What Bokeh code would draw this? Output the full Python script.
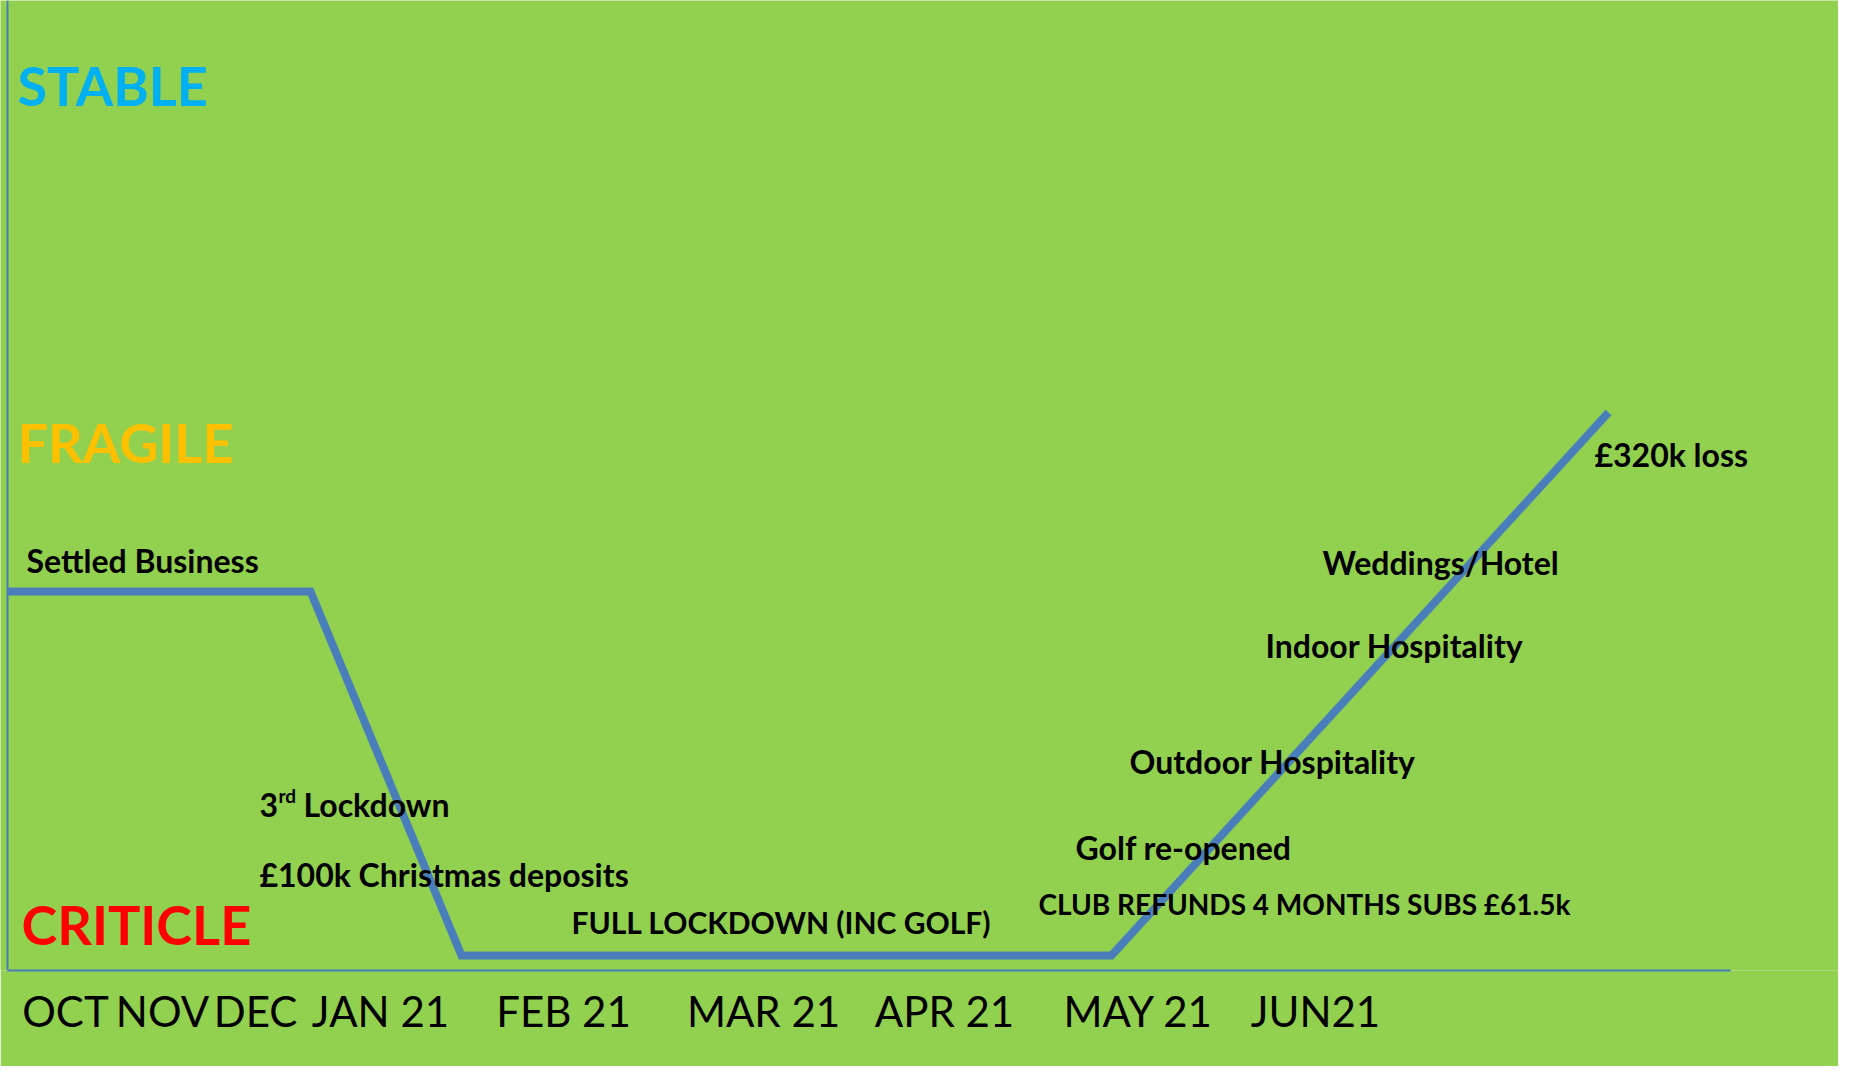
from bokeh.plotting import figure
from bokeh.models import Range1d, FixedTicker, Span
from bokeh.core.properties import value
from bokeh.embed import file_html
from bokeh.resources import INLINE

# ---- data (timeline position, health level) ----
path_x = [7, 310, 461, 1111, 1608]
path_y = [379, 379, 15, 15, 558]

month_labels = ["OCT", "NOV", "DEC", "JAN 21", "FEB 21", "MAR 21", "APR 21", "MAY 21", "JUN21"]
month_pos = [65, 162, 255, 380, 563, 763, 944, 1138, 1315]

level_labels = ["STABLE", "FRAGILE", "CRITICLE"]
level_x = [17, 17, 21]
level_y = [885, 528, 46]
level_colors = ["#00B0F0", "#FFC000", "#FF0000"]

event_labels = ["Settled Business", "£100k Christmas deposits",
                "Golf re-opened", "Outdoor Hospitality", "Indoor Hospitality",
                "Weddings/Hotel", "£320k loss"]
event_x = [26, 259, 1075, 1129, 1265, 1322, 1594]
event_y = [410, 96, 123, 209, 325, 408, 516]

caps_labels = ["FULL LOCKDOWN (INC GOLF)"]
caps_x = [571]
caps_y = [49]

refund_label = ["CLUB REFUNDS 4 MONTHS SUBS £61.5k"]
refund_x = [1038]
refund_y = [67]

lockdown_num = ["3"]
lockdown_sup = ["rd"]
lockdown_word = ["Lockdown"]
lockdown_x = [259]
lockdown_y = [166]

BG = "#92D050"
BLUE = "#4A7EBB"
FONT = "Lato"

W, H = 1838, 1066
FRAME_H = 970
BOTTOM = H - FRAME_H

p = figure(width=W, height=H, output_backend="svg", toolbar_location=None,
           x_range=Range1d(0, W), y_range=Range1d(0, FRAME_H),
           min_border_left=0, min_border_right=0, min_border_top=0,
           min_border_bottom=BOTTOM)
p.background_fill_color = BG
p.border_fill_color = BG
p.outline_line_color = None
p.grid.visible = False
p.yaxis.visible = False

ax = p.xaxis[0]
ax.ticker = FixedTicker(ticks=month_pos)
ax.major_label_overrides = {pos: lab for pos, lab in zip(month_pos, month_labels)}
ax.major_label_text_font = FONT
ax.major_label_text_font_size = "42px"
ax.major_label_text_color = "black"
ax.major_label_standoff = 9
ax.major_tick_line_color = None
ax.minor_tick_line_color = None
ax.axis_line_color = BLUE
ax.axis_line_width = 2
ax.bounds = (7, 1730)

p.add_layout(Span(location=7, dimension="height", line_color=BLUE, line_width=2))

p.line(path_x, path_y, line_color=BLUE, line_width=8, line_join="miter")

p.text(level_x, level_y, text=level_labels, text_color=level_colors,
       text_font=value(FONT), text_font_style="bold", text_font_size="54px",
       text_baseline="middle", text_align="left")

p.text(event_x, event_y, text=event_labels, text_color="black",
       text_font=value(FONT), text_font_style="bold", text_font_size="32px",
       text_baseline="middle", text_align="left")

p.text(caps_x, caps_y, text=caps_labels, text_color="black",
       text_font=value(FONT), text_font_style="bold", text_font_size="30px",
       text_baseline="middle", text_align="left")

p.text(refund_x, refund_y, text=refund_label, text_color="black",
       text_font=value(FONT), text_font_style="bold", text_font_size="28px",
       text_baseline="middle", text_align="left")

p.text(lockdown_x, lockdown_y, text=lockdown_num, text_color="black",
       text_font=value(FONT), text_font_style="bold", text_font_size="32px",
       text_baseline="middle", text_align="left")
p.text(lockdown_x, lockdown_y, text=lockdown_sup, text_color="black",
       text_font=value(FONT), text_font_style="bold", text_font_size="19px",
       text_baseline="middle", text_align="left", x_offset=19, y_offset=-9)
p.text(lockdown_x, lockdown_y, text=lockdown_word, text_color="black",
       text_font=value(FONT), text_font_style="bold", text_font_size="32px",
       text_baseline="middle", text_align="left", x_offset=44)

open("out.html", "w").write(file_html(p, INLINE))
